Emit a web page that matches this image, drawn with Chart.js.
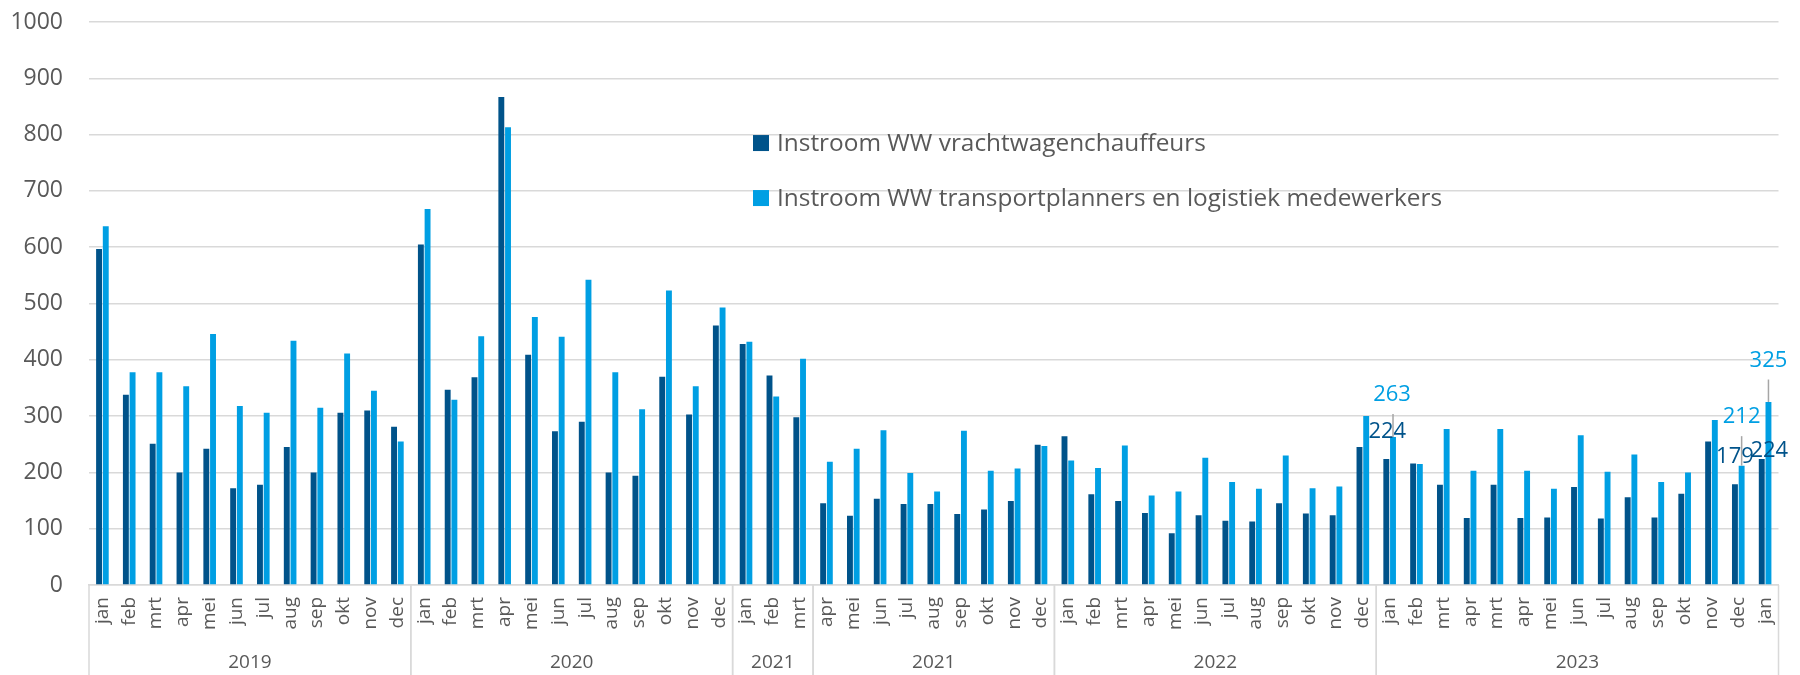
<!DOCTYPE html>
<html>
<head>
<meta charset="utf-8">
<script src="https://cdn.jsdelivr.net/npm/chart.js@4.4.1/dist/chart.umd.min.js"></script>
<style>
    body { margin: 0; background: #ffffff; }
    .chart-container { width: 1800px; height: 675px; position: relative; }
</style>
</head>
<body>
<div class="chart-container"><canvas id="instroom"></canvas></div>
<script>
// maanden per groep, in volgorde van de as
const months = [
    'jan', 'feb', 'mrt', 'apr', 'mei', 'jun', 'jul', 'aug', 'sep', 'okt', 'nov', 'dec',
    'jan', 'feb', 'mrt', 'apr', 'mei', 'jun', 'jul', 'aug', 'sep', 'okt', 'nov', 'dec',
    'jan', 'feb', 'mrt',
    'apr', 'mei', 'jun', 'jul', 'aug', 'sep', 'okt', 'nov', 'dec',
    'jan', 'feb', 'mrt', 'apr', 'mei', 'jun', 'jul', 'aug', 'sep', 'okt', 'nov', 'dec',
    'jan', 'feb', 'mrt', 'apr', 'mrt', 'apr', 'mei', 'jun', 'jul', 'aug', 'sep', 'okt', 'nov', 'dec', 'jan'
];
const yearLabels = ['2019', '2020', '2021', '2021', '2022', '2023'];
const yearCounts = [12, 12, 3, 9, 12, 15];

const vrachtwagen = [
    597, 338, 251, 200, 242, 172, 178, 245, 200, 306, 310, 281,
    605, 347, 369, 867, 409, 273, 290, 200, 194, 370, 303, 461,
    428, 372, 298,
    145, 123, 153, 144, 144, 126, 134, 149, 249,
    264, 161, 149, 128, 92, 124, 114, 113, 145, 127, 124, 245,
    224, 216, 178, 119, 178, 119, 120, 174, 118, 156, 120, 162, 255, 179, 224
];
const transport = [
    637, 378, 378, 353, 446, 318, 306, 434, 315, 411, 345, 255,
    668, 329, 442, 813, 476, 441, 542, 378, 312, 523, 353, 493,
    432, 335, 402,
    219, 242, 275, 199, 166, 274, 203, 207, 247,
    221, 208, 248, 159, 166, 226, 183, 171, 230, 172, 175, 300,
    263, 215, 277, 203, 277, 203, 171, 266, 201, 232, 183, 200, 293, 212, 325
];
const seriesNames = [
    'Instroom WW vrachtwagenchauffeurs',
    'Instroom WW transportplanners en logistiek medewerkers'
];
const yTicks = [0, 100, 200, 300, 400, 500, 600, 700, 800, 900, 1000];

// maanden met een waardelabel
const labelIndex = [48, 61, 62];

const darkBlue = '#00538A';
const lightBlue = '#009FE3';
const gridColor = '#d9d9d9';
const textColor = '#595959';
const fontFamily = "'Open Sans', sans-serif";

// verschuiving van de labels t.o.v. de bovenkant van de staaf [dx, dy]
const labelOffsets = [
    [[1, -27], [0, -27], [7.5, -8]],
    [[-1, -42], [0, -48.5], [0, -41.5]]
];

/*---- jaar-rij onder de maanden ----*/
const groupAxis = {
    id: 'groupAxis',
    afterDraw(chart) {
        const { ctx, chartArea } = chart;
        const x = chart.scales.x;
        const half = (x.getPixelForValue(1) - x.getPixelForValue(0)) / 2;
        let start = 0;
        ctx.save();
        ctx.strokeStyle = gridColor;
        ctx.lineWidth = 1.5;
        ctx.fillStyle = textColor;
        ctx.font = '19px ' + fontFamily;
        ctx.textAlign = 'center';
        ctx.textBaseline = 'middle';
        yearCounts.forEach((n, i) => {
            const left = x.getPixelForValue(start) - half;
            const right = x.getPixelForValue(start + n - 1) + half;
            ctx.beginPath();
            ctx.moveTo(left, chartArea.bottom);
            ctx.lineTo(left, chart.height);
            ctx.moveTo(right, chartArea.bottom);
            ctx.lineTo(right, chart.height);
            ctx.stroke();
            ctx.fillText(yearLabels[i], (left + right) / 2, chart.height - 12);
            start += n;
        });
        ctx.restore();
    }
};

/*---- waardelabels met lijntje ----*/
const valueLabels = {
    id: 'valueLabels',
    afterDatasetsDraw(chart) {
        const ctx = chart.ctx;
        ctx.save();
        ctx.font = '22px ' + fontFamily;
        ctx.textAlign = 'center';
        ctx.textBaseline = 'middle';
        [1, 0].forEach(d => {
            const ds = chart.data.datasets[d];
            const meta = chart.getDatasetMeta(d);
            labelIndex.forEach((idx, k) => {
                const bar = meta.data[idx];
                const off = labelOffsets[d][k];
                const tx = bar.x + off[0];
                const ty = bar.y + off[1];
                if (d === 1) {
                    ctx.strokeStyle = '#a6a6a6';
                    ctx.lineWidth = 1.5;
                    ctx.beginPath();
                    ctx.moveTo(bar.x, ty + 19);
                    ctx.lineTo(bar.x, bar.y);
                    ctx.stroke();
                }
                ctx.fillStyle = ds.backgroundColor;
                ctx.fillText(ds.data[idx], tx, ty);
            });
        });
        ctx.restore();
    }
};

/*---- legenda in het plotvlak ----*/
const innerLegend = {
    id: 'innerLegend',
    afterDraw(chart) {
        const ctx = chart.ctx;
        const y = chart.scales.y;
        ctx.save();
        ctx.font = '24.4px ' + fontFamily;
        ctx.textBaseline = 'middle';
        chart.data.datasets.forEach((ds, i) => {
            const cy = y.getPixelForValue(785) + i * 55;
            ctx.fillStyle = ds.backgroundColor;
            ctx.fillRect(753, cy - 8, 16, 16);
            ctx.fillStyle = textColor;
            ctx.fillText(ds.label, 777, cy + 1);
        });
        ctx.restore();
    }
};

const ctx = document.getElementById('instroom').getContext('2d');
const myChart = new Chart(ctx, {
    type: 'bar',
    data: {
        labels: months,
        datasets: [{
            label: seriesNames[0],
            data: vrachtwagen,
            backgroundColor: darkBlue,
            categoryPercentage: 0.5,
            barPercentage: 0.88,
        }, {
            label: seriesNames[1],
            data: transport,
            backgroundColor: lightBlue,
            categoryPercentage: 0.5,
            barPercentage: 0.88,
        }]
    },
    options: {
        responsive: true,
        maintainAspectRatio: false,
        animation: false,
        layout: {
            padding: { left: 0, right: 12, top: 22, bottom: 35 }
        },
        plugins: {
            legend: { display: false },
            tooltip: { enabled: false }
        },
        scales: {
            x: {
                ticks: {
                    autoSkip: false,
                    minRotation: 90,
                    maxRotation: 90,
                    padding: 12,
                    color: textColor,
                    font: { family: fontFamily, size: 19 }
                },
                grid: { display: false, drawTicks: false },
                border: { display: true, color: gridColor, width: 1.5 },
                afterFit: function (scale) {
                    scale.height = 55;
                }
            },
            y: {
                min: 0,
                max: 1000,
                afterBuildTicks: function (scale) {
                    scale.ticks = yTicks.map(v => ({ value: v }));
                },
                ticks: {
                    padding: 3,
                    color: textColor,
                    font: { family: fontFamily, size: 23 },
                    callback: function (value) {
                        return String(value);
                    }
                },
                grid: {
                    color: gridColor,
                    lineWidth: 1.5,
                    drawTicks: true,
                    tickLength: 23,
                    tickColor: 'rgba(0, 0, 0, 0)'
                },
                border: { display: false },
                afterFit: function (scale) {
                    scale.width = 89;
                }
            }
        }
    },
    plugins: [groupAxis, valueLabels, innerLegend]
});
</script>
</body>
</html>
